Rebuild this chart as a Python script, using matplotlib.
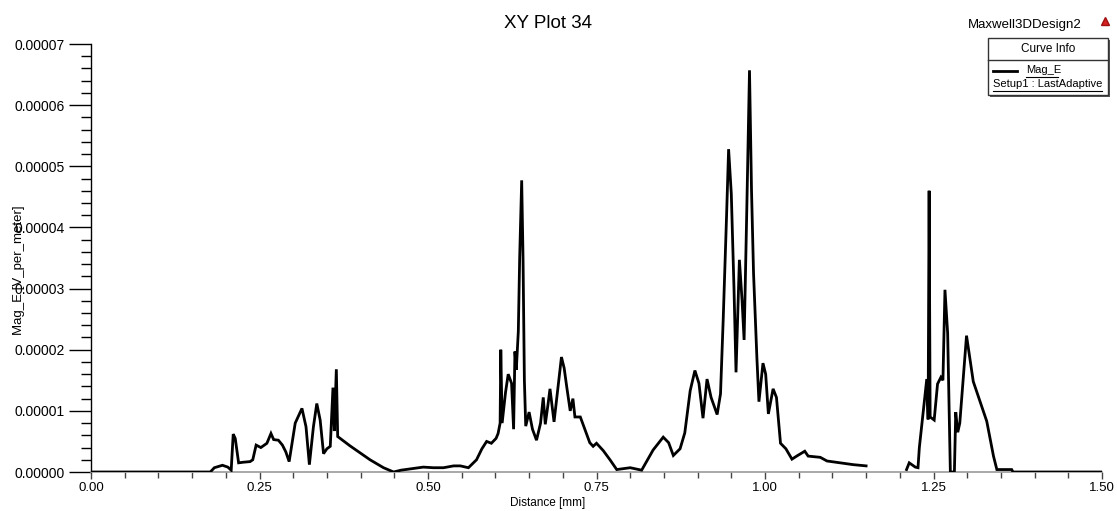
import numpy as np
import matplotlib
matplotlib.use("Agg")
import matplotlib.pyplot as plt
from matplotlib.patches import Rectangle
from matplotlib.lines import Line2D
from matplotlib.ticker import MultipleLocator, FormatStrFormatter

plt.rcParams['font.family'] = ['Liberation Sans', 'DejaVu Sans']

# ---------------- data ----------------
title = "XY Plot 34"
design_name = "Maxwell3DDesign2"
x_label = "Distance [mm]"
y_label = "Mag_E [V_per_meter]"
legend_title = "Curve Info"
series_name = "Mag_E"
series_setup = "Setup1 : LastAdaptive"

distance_mm = [
    0.000, 0.177, 0.183, 0.195, 0.203, 0.208, 0.211, 0.214, 0.219, 0.226,
    0.236, 0.240, 0.245, 0.252, 0.261, 0.267, 0.271, 0.278, 0.284, 0.289,
    0.294, 0.303, 0.313, 0.319, 0.324, 0.330, 0.335, 0.340, 0.345, 0.350,
    0.355, 0.359, 0.361, 0.364, 0.366, 0.384, 0.414, 0.434, 0.449, 0.460,
    0.473, 0.493, 0.508, 0.523, 0.538, 0.548, 0.560, 0.572, 0.580, 0.587,
    0.594, 0.601, 0.604, 0.607, 0.608, 0.610, 0.615, 0.619, 0.624, 0.627,
    0.629, 0.631, 0.634, 0.636, 0.639, 0.641, 0.643, 0.645, 0.650, 0.655,
    0.661, 0.667, 0.671, 0.674, 0.678, 0.681, 0.687, 0.692, 0.698, 0.702,
    0.706, 0.711, 0.715, 0.718, 0.726, 0.733, 0.740, 0.745, 0.750, 0.760,
    0.770, 0.780, 0.800, 0.817, 0.834, 0.849, 0.857, 0.864, 0.874, 0.881,
    0.889, 0.896, 0.902, 0.908, 0.914, 0.920, 0.929, 0.934, 0.938, 0.943,
    0.946, 0.950, 0.954, 0.957, 0.962, 0.966, 0.969, 0.973, 0.977, 0.980,
    0.983, 0.988, 0.991, 0.997, 1.001, 1.005, 1.012, 1.017, 1.023, 1.031,
    1.040, 1.047, 1.059, 1.064, 1.082, 1.092, 1.111, 1.131, 1.150, 1.152,
    1.208, 1.210, 1.214, 1.223, 1.227, 1.229, 1.240, 1.242, 1.2435, 1.245,
    1.251, 1.256, 1.261, 1.264, 1.267, 1.271, 1.275, 1.281, 1.283, 1.286,
    1.289, 1.299, 1.309, 1.329, 1.339, 1.344, 1.366, 1.368, 1.500,
]

# Mag_E in units of 1e-5 V/m (nan = no data)
mag_e_1e5 = [
    0.00, 0.00, 0.07, 0.11, 0.08, 0.03, 0.62, 0.55, 0.15, 0.16,
    0.17, 0.20, 0.44, 0.40, 0.47, 0.63, 0.53, 0.52, 0.44, 0.33,
    0.17, 0.80, 1.04, 0.74, 0.12, 0.74, 1.12, 0.85, 0.30, 0.38,
    0.42, 1.38, 0.67, 1.68, 0.58, 0.43, 0.20, 0.07, 0.00, 0.03,
    0.05, 0.08, 0.07, 0.07, 0.10, 0.10, 0.07, 0.20, 0.38, 0.50,
    0.47, 0.55, 0.63, 0.80, 2.00, 0.80, 1.30, 1.60, 1.45, 0.70,
    1.97, 1.67, 2.30, 3.50, 4.77, 3.50, 1.50, 0.75, 0.98, 0.70,
    0.52, 0.80, 1.22, 0.78, 1.10, 1.36, 0.82, 1.30, 1.88, 1.70,
    1.38, 1.00, 1.20, 0.90, 0.90, 0.69, 0.48, 0.42, 0.47, 0.35,
    0.20, 0.04, 0.07, 0.03, 0.36, 0.57, 0.48, 0.27, 0.38, 0.64,
    1.33, 1.66, 1.45, 0.88, 1.52, 1.22, 0.94, 1.28, 2.50, 4.20,
    5.28, 4.55, 3.00, 1.63, 3.47, 2.80, 2.16, 4.30, 6.57, 4.60,
    3.25, 1.86, 1.15, 1.78, 1.60, 0.95, 1.36, 1.22, 0.47, 0.38,
    0.21, 0.26, 0.34, 0.26, 0.24, 0.18, 0.15, 0.12, 0.10, np.nan,
    np.nan, 0.04, 0.15, 0.08, 0.07, 0.40, 1.52, 0.86, 4.60, 0.90,
    0.85, 1.44, 1.55, 1.50, 2.98, 2.27, 0.00, 0.00, 0.98, 0.65,
    0.80, 2.23, 1.48, 0.83, 0.26, 0.04, 0.04, 0.00, 0.00,
]

x_ticks = [0.00, 0.25, 0.50, 0.75, 1.00, 1.25, 1.50]
y_ticks = [0.0, 1e-5, 2e-5, 3e-5, 4e-5, 5e-5, 6e-5, 7e-5]

# ---------------- figure ----------------
W, H = 1117, 511
fig = plt.figure(figsize=(W / 100, H / 100), dpi=100)
fig.patch.set_facecolor('white')

ax_l, ax_r, ax_t, ax_b = 91, 1102, 44, 472
ax = fig.add_axes([ax_l / W, 1 - ax_b / H, (ax_r - ax_l) / W, (ax_b - ax_t) / H])

x = np.array(distance_mm)
y = np.array(mag_e_1e5) * 1e-5
ax.plot(x, y, color='black', lw=2.0, solid_joinstyle='miter', zorder=3)

ax.set_xlim(0, 1.5)
ax.set_ylim(0, 7e-5)
ax.set_xticks(x_ticks)
ax.set_yticks(y_ticks)
ax.xaxis.set_major_formatter(FormatStrFormatter('%.2f'))
ax.yaxis.set_major_formatter(FormatStrFormatter('%.5f'))
ax.xaxis.set_minor_locator(MultipleLocator(0.05))
ax.yaxis.set_minor_locator(MultipleLocator(0.2e-5))

for s in ['top', 'right']:
    ax.spines[s].set_visible(False)
ax.spines['left'].set_color('black')
ax.spines['left'].set_linewidth(1.0)
ax.spines['bottom'].set_color('#9a9a9a')
ax.spines['bottom'].set_linewidth(1.2)

ax.tick_params(axis='y', which='major', direction='out', length=16, width=1,
               color='black', labelsize=10, pad=3)
ax.tick_params(axis='y', which='minor', direction='out', length=7, width=1,
               color='black')
ax.tick_params(axis='x', which='major', direction='out', length=5, width=1,
               color='#444444', labelsize=9.5, pad=2)
ax.tick_params(axis='x', which='minor', direction='out', length=4, width=1,
               color='#444444')

# axis labels
fig.text(548 / W, 1 - 503 / H, x_label, ha='center', va='center', fontsize=8.5)
fig.text(19 / W, 1 - 270 / H, y_label, ha='center', va='center',
         rotation=90, fontsize=9.5)

# title and design name
fig.text(548 / W, 1 - 23 / H, title, ha='center', va='center', fontsize=13.5)
fig.text(1082 / W, 1 - 25 / H, design_name, ha='right', va='center', fontsize=9.5)
fig.add_artist(Line2D([1105 / W], [1 - 21 / H], marker='^', markersize=6,
                      color='#d42020', markeredgecolor='#a01010', lw=0))

# legend box (Ansys "Curve Info")
bx0, bx1, by0, by1, bdiv = 988, 1108, 38, 95, 60
fig.add_artist(Rectangle(((bx0 + 2) / W, 1 - (by1 + 2) / H), (bx1 - bx0) / W,
                         (by1 - by0) / H, facecolor='#555555', edgecolor='none',
                         transform=fig.transFigure, zorder=5))
fig.add_artist(Rectangle((bx0 / W, 1 - by1 / H), (bx1 - bx0) / W, (by1 - by0) / H,
                         facecolor='white', edgecolor='#333333', lw=1,
                         transform=fig.transFigure, zorder=6))
fig.add_artist(Line2D([bx0 / W, bx1 / W], [1 - bdiv / H, 1 - bdiv / H],
                      color='#333333', lw=1, zorder=7))
fig.text((bx0 + bx1) / 2 / W, 1 - 49 / H, legend_title, ha='center', va='center',
         fontsize=8.5, zorder=8)
fig.add_artist(Line2D([993 / W, 1017 / W], [1 - 71 / H, 1 - 71 / H],
                      color='black', lw=2, zorder=8))
fig.text(1026 / W, 1 - 70 / H, series_name, ha='left', va='center', fontsize=8,
         zorder=8)
fig.add_artist(Line2D([1026 / W, 1058 / W], [1 - 77 / H, 1 - 77 / H],
                      color='black', lw=0.8, zorder=8))
fig.text(993 / W, 1 - 84 / H, series_setup, ha='left', va='center', fontsize=8,
         zorder=8)
fig.add_artist(Line2D([993 / W, 1102 / W], [1 - 91 / H, 1 - 91 / H],
                      color='black', lw=0.8, zorder=8))

fig.savefig('out.png', dpi=100)
